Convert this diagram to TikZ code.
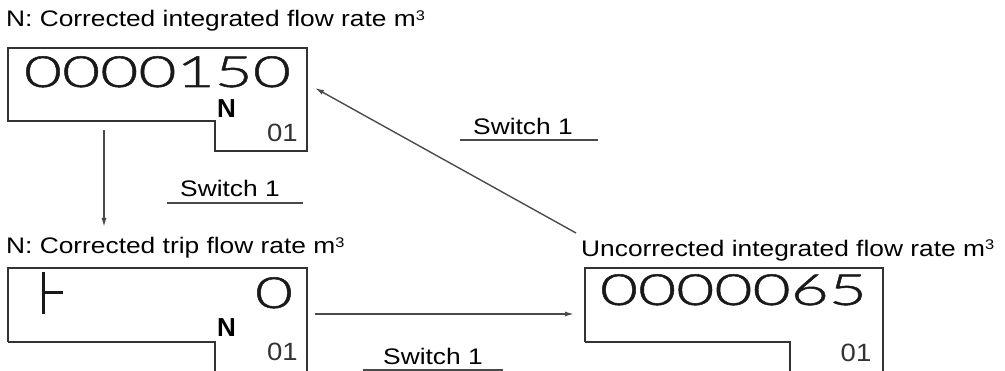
\documentclass[tikz,border=0pt]{standalone}
\usepackage{fontspec}
\setmainfont{Liberation Sans}
\newfontfamily\labfont[FakeStretch=1.17]{Liberation Sans}
\newfontfamily\digfont[FakeStretch=1.53,FakeBold=1.2,Numbers=Monospaced]{Lato Light}
\newfontfamily\smfont[FakeStretch=1.1]{Liberation Sans}
\usetikzlibrary{arrows.meta}
\definecolor{boxcol}{HTML}{333333}
\definecolor{arrcol}{HTML}{4A4A4A}
\newcommand\mcube{\raisebox{6.5pt}{\fontsize{14}{14}\selectfont 3}}
\tikzset{
  lab/.style={inner sep=0pt, anchor=base west, font=\labfont\fontsize{22.5}{27}\selectfont},
  digits/.style={inner sep=0pt, anchor=base, font=\digfont\fontsize{43}{50}\selectfont, text=black!90},
  nmark/.style={inner sep=0pt, anchor=base, font=\bfseries\fontsize{26}{30}\selectfont},
  chan/.style={inner sep=0pt, anchor=base, font=\smfont\fontsize{25}{30}\selectfont, text=black!80},
  outline/.style={draw=boxcol, line width=2pt, line join=miter},
  uline/.style={draw=arrcol, line width=2pt},
  conn/.style={draw=arrcol, line width=1.4pt, -{Latex[length=9pt,width=5pt]}},
  segmark/.style={draw=black!90, line width=3pt},
}
\begin{document}
\begin{tikzpicture}[x=1pt,y=-1pt]
\useasboundingbox (0,0) rectangle (1005,371);

% labels
\node[lab] (lab1) at (6,27) {N: Corrected integrated flow rate m\mcube};
\node[lab] (lab2) at (6,254) {N: Corrected trip flow rate m\mcube};
\node[lab] (lab3) at (581,256.5) {Uncorrected integrated flow rate m\mcube};

% box 1
\draw[outline] (8,48) -- (307,48) -- (307,151) -- (215,151) -- (215,121) -- (8,121) -- cycle;
\node[digits] (d1) at (157.5,87) {0000150};
\node[nmark] (n1) at (226.5,118) {N};
\node[chan] (c1) at (282.5,142) {01};

% box 2
\draw[outline] (8,342) -- (8,268) -- (307,268) -- (307,373);
\draw[outline] (8,342) -- (215,342) -- (215,373);
\draw[segmark] (43,272) -- (43,314);
\draw[segmark] (43,293) -- (63,293);
\node[digits] (d2) at (274,308) {0};
\node[nmark] (n2) at (226.5,337) {N};
\node[chan] (c2) at (282.5,361) {01};

% box 3
\draw[outline] (585,342) -- (585,268) -- (883,268) -- (883,373);
\draw[outline] (585,342) -- (790,342) -- (790,373);
\node[digits] (d3) at (733.5,305) {0000065};
\node[chan] (c3) at (856,362) {01};

% switch labels
\node[lab] (sw1) at (180,197) {Switch 1};
\draw[uline] (167,203) -- (303,203);
\node[lab] (sw2) at (473,135) {Switch 1};
\draw[uline] (460,140) -- (598,140);
\node[lab] (sw3) at (383,365) {Switch 1};
\draw[uline] (363,370) -- (503,370);

% connectors
\coordinate (v1) at (104,130);
\coordinate (v2) at (104,227);
\coordinate (h1) at (315,314);
\coordinate (h2) at (574,314);
\coordinate (g1) at (576,233);
\coordinate (g2) at (315,88);
\draw[conn] (v1) -- (v2);
\draw[conn] (h1) -- (h2);
\draw[conn] (g1) -- (g2);
\end{tikzpicture}
\end{document}
